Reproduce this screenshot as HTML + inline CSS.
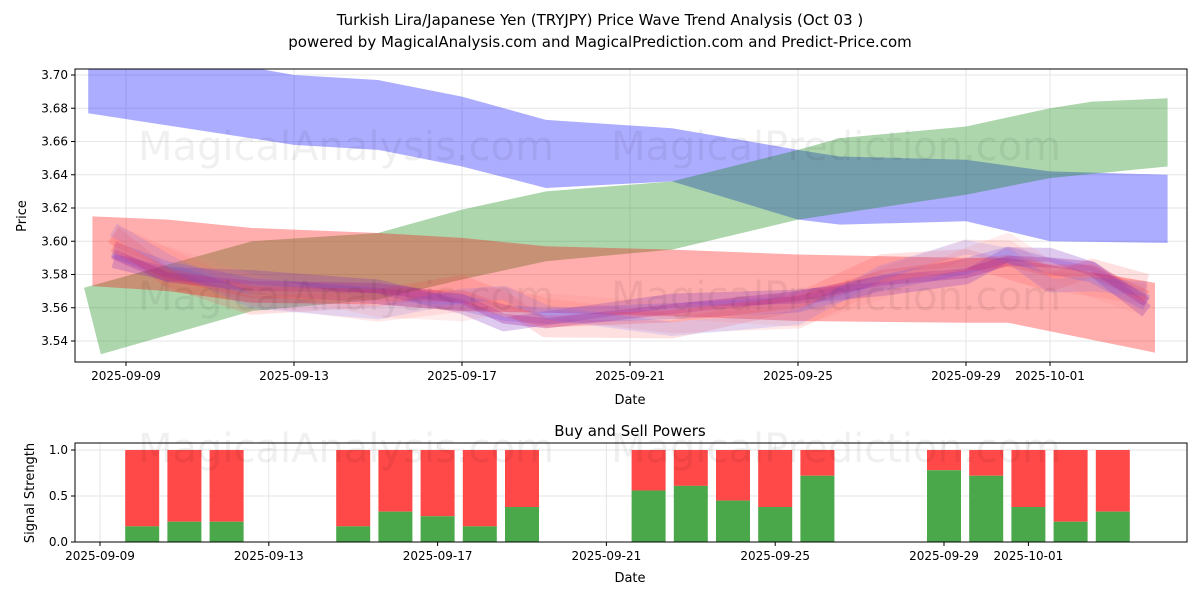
<!DOCTYPE html>
<html><head><meta charset="utf-8"><style>
body{margin:0;background:#fff;font-family:"Liberation Sans","DejaVu Sans",sans-serif}
svg text{font-family:"DejaVu Sans","Liberation Sans",sans-serif}
</style></head><body>
<svg id="c" width="1200" height="600" viewBox="0 0 1200 600">
<text x="600" y="25" text-anchor="middle" font-size="15">Turkish Lira/Japanese Yen (TRYJPY) Price Wave Trend Analysis (Oct 03 )</text>
<text x="600" y="47" text-anchor="middle" font-size="15">powered by MagicalAnalysis.com and MagicalPrediction.com and Predict-Price.com</text>
<g id="topPanel"></g>
<g id="botPanel"></g>
</svg>
<script>
// ---- data ----
const topTickDays=[0,4,8,12,16,20,22];
const topTickLabels=["2025-09-09","2025-09-13","2025-09-17","2025-09-21","2025-09-25","2025-09-29","2025-10-01"];
const priceTicks=[3.54,3.56,3.58,3.60,3.62,3.64,3.66,3.68,3.70];
const blueDays=[-0.9,4,6,8,10,13,16,17,20,22,24.8];
const blueUpper=[3.722,3.700,3.697,3.687,3.673,3.668,3.655,3.651,3.649,3.642,3.640];
const blueLower=[3.677,3.658,3.655,3.645,3.632,3.636,3.613,3.610,3.612,3.600,3.599];
const greenUpDays=[-1.0,3,6,8,10,13,16,17,20,22,23,24.8];
const greenUpper=[3.572,3.600,3.605,3.619,3.630,3.636,3.655,3.662,3.669,3.680,3.684,3.686];
const greenLoDays=[-0.6,3,6,8,10,13,16,20,22,24.8];
const greenLower=[3.532,3.558,3.565,3.577,3.588,3.595,3.613,3.628,3.638,3.645];
const redDays=[-0.8,1,3,6,8,10,13,16,20,21,24.5];
const redUpper=[3.615,3.613,3.608,3.605,3.602,3.597,3.595,3.592,3.590,3.590,3.575];
const redLower=[3.573,3.570,3.563,3.562,3.558,3.557,3.555,3.552,3.551,3.551,3.533];
const waveDays=[-0.3,1,3,6,8,9,10,13,16,18,20,21,22,23,24.3];
const waveValues=[3.595,3.583,3.573,3.567,3.563,3.557,3.555,3.558,3.562,3.575,3.585,3.592,3.585,3.580,3.563];
const botTickDays=[0,4,8,12,16,20,22];
const botTickLabels=["2025-09-09","2025-09-13","2025-09-17","2025-09-21","2025-09-25","2025-09-29","2025-10-01"];
const barDays=[1,2,3,6,7,8,9,10,13,14,15,16,17,20,21,22,23,24];
const buyValues=[0.17,0.22,0.22,0.17,0.33,0.28,0.17,0.38,0.56,0.61,0.45,0.38,0.72,0.78,0.72,0.38,0.22,0.33];
const signalTicks=[0,0.5,1.0];
const signalTickLabels=["0.0","0.5","1.0"];
// ---- scales ----
const NS="http://www.w3.org/2000/svg";
const L=75,R=1187,T1=69,B1=362,T2=443,B2=542;
const xT=d=>126+42*d, yT=v=>75+(3.70-v)/0.02*33.25;
const xB=d=>100+42.2*d, yB=v=>542-92*v;
function mk(p,tag,a){const e=document.createElementNS(NS,tag);for(const k in a)e.setAttribute(k,a[k]);p.appendChild(e);return e;}
const topG=document.getElementById('topPanel'),botG=document.getElementById('botPanel');
const defs=mk(document.getElementById('c'),'defs',{});
const cp=mk(defs,'clipPath',{id:'cl'});mk(cp,'rect',{x:L,y:T1,width:R-L,height:B1-T1});
priceTicks.forEach(v=>{const y=yT(v);
 const g=mk(topG,'line',{x1:L,x2:R,y1:y,y2:y,stroke:'#e6e6e6'});
 
 
 mk(topG,'line',{x1:L-4,x2:L,y1:y,y2:y,stroke:'#000'});
 const t=mk(topG,'text',{x:L-7,y:y+4,'text-anchor':'end','font-size':12});t.textContent=v.toFixed(2);
 
 });
topTickDays.forEach((d,i)=>{const x=xT(d);
 mk(topG,'line',{x1:x,x2:x,y1:T1,y2:B1,stroke:'#e6e6e6'});
 mk(topG,'line',{x1:x,x2:x,y1:B1,y2:B1+4,stroke:'#000'});
 const t=mk(topG,'text',{x:x,y:B1+18,'text-anchor':'middle','font-size':12});t.textContent=topTickLabels[i];
 
 });
const gplot=mk(topG,'g',{'clip-path':'url(#cl)'});
function band(ud,u,ld,l,col,op,name){let pts=ud.map((d,i)=>xT(d)+','+yT(u[i]));for(let i=ld.length-1;i>=0;i--)pts.push(xT(ld[i])+','+yT(l[i]));
 const p=mk(gplot,'polygon',{points:pts.join(' '),fill:col,'fill-opacity':op});
 
 }
band(blueDays,blueUpper,blueDays,blueLower,'#0000ff',0.32,'blue-band');
band(greenUpDays,greenUpper,greenLoDays,greenLower,'#008000',0.32,'green-band');
band(redDays,redUpper,redDays,redLower,'#ff0000',0.32,'red-band');
const offs=[[-0.012,'#ff4040',0.16,18],[0.010,'#ff6060',0.14,20],[0.0,'#4040ff',0.2,16],[-0.007,'#8030c0',0.26,14],[0.005,'#a020a0',0.3,10],[-0.004,'#ff3030',0.2,12],[0.012,'#6060ff',0.16,14],[-0.009,'#ff8080',0.14,16]];
offs.forEach(o=>{const d=waveDays.map((dd,i)=>(i?'L':'M')+xT(dd)+','+yT(waveValues[i]+o[0]*Math.sin(i*1.3+o[3]))).join('');
 const p=mk(gplot,'path',{d:d,fill:'none',stroke:o[1],'stroke-opacity':o[2],'stroke-width':o[3],'stroke-linejoin':'round'});
 
 });
[['MagicalAnalysis.com',346,160],['MagicalPrediction.com',836,160],['MagicalAnalysis.com',346,310],['MagicalPrediction.com',836,310]].forEach(w=>{const t=mk(topG,'text',{x:w[1],y:w[2],'text-anchor':'middle','font-size':40,fill:'#000','fill-opacity':0.06});t.textContent=w[0];
 
 });
mk(topG,'rect',{x:L,y:T1,width:R-L,height:B1-T1,fill:'none',stroke:'#000'});
let t=mk(topG,'text',{x:630,y:404,'text-anchor':'middle','font-size':13});t.textContent='Date';


t=mk(topG,'text',{x:26,y:216,'text-anchor':'middle','font-size':13,transform:'rotate(-90 26 216)'});t.textContent='Price';


signalTicks.forEach((v,i)=>{const y=yB(v);
 mk(botG,'line',{x1:L,x2:R,y1:y,y2:y,stroke:'#e6e6e6'});
 mk(botG,'line',{x1:L-4,x2:L,y1:y,y2:y,stroke:'#000'});
 const tt=mk(botG,'text',{x:L-7,y:y+4,'text-anchor':'end','font-size':12});tt.textContent=signalTickLabels[i];
 
 });
botTickDays.forEach((d,i)=>{const x=xB(d);
 mk(botG,'line',{x1:x,x2:x,y1:T2,y2:B2,stroke:'#e6e6e6'});
 mk(botG,'line',{x1:x,x2:x,y1:B2,y2:B2+4,stroke:'#000'});
 const tt=mk(botG,'text',{x:x,y:B2+18,'text-anchor':'middle','font-size':12});tt.textContent=botTickLabels[i];
 
 });
barDays.forEach((d,i)=>{const x=xB(d)-17,w=34,b=buyValues[i];
 const r=mk(botG,'rect',{x:x,y:yB(1),width:w,height:yB(b)-yB(1),fill:'#ff4848'});
 
 
 const g=mk(botG,'rect',{x:x,y:yB(b),width:w,height:yB(0)-yB(b),fill:'#4aa84a'});
 
 });
[['MagicalAnalysis.com',346,462],['MagicalPrediction.com',836,462]].forEach(w=>{const tt=mk(botG,'text',{x:w[1],y:w[2],'text-anchor':'middle','font-size':40,fill:'#000','fill-opacity':0.06});tt.textContent=w[0];
 
 });
mk(botG,'rect',{x:L,y:T2,width:R-L,height:B2-T2,fill:'none',stroke:'#000'});
t=mk(botG,'text',{x:630,y:436,'text-anchor':'middle','font-size':15});t.textContent='Buy and Sell Powers';


t=mk(botG,'text',{x:630,y:582,'text-anchor':'middle','font-size':13});t.textContent='Date';


t=mk(botG,'text',{x:34,y:493,'text-anchor':'middle','font-size':13,transform:'rotate(-90 34 493)'});t.textContent='Signal Strength';


</script>
</body></html>
